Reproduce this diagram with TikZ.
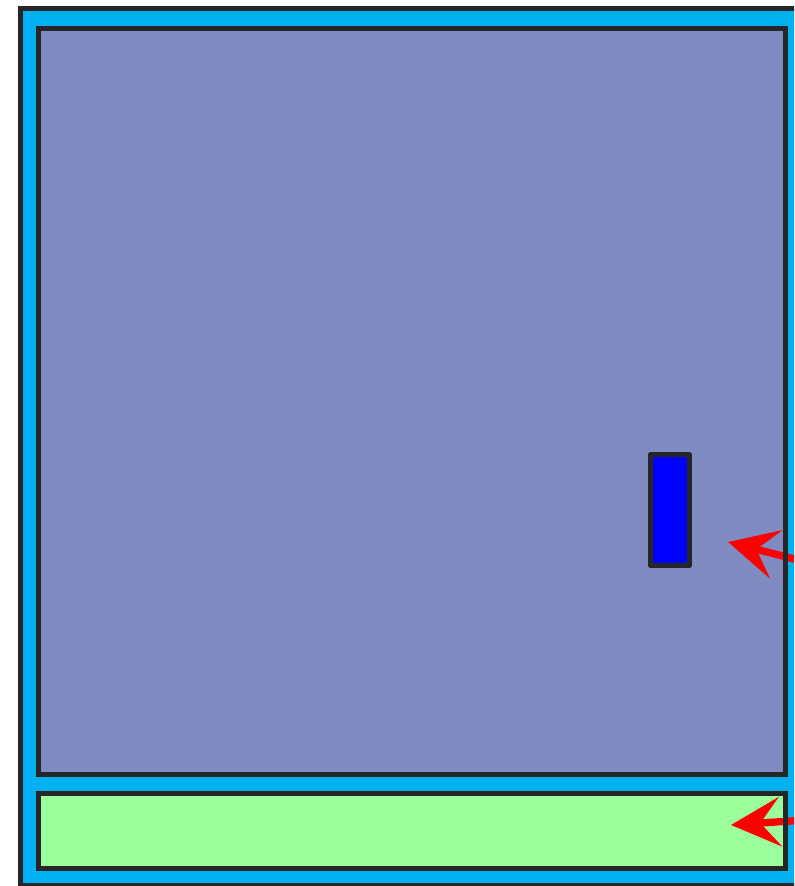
\documentclass[tikz,border=0pt]{standalone}
\usepackage{tikz}
\usetikzlibrary{arrows.meta}

\definecolor{framecyan}{RGB}{0,176,240}
\definecolor{roomblue}{RGB}{127,139,193}
\definecolor{stripgreen}{RGB}{155,255,155}
\definecolor{edgegray}{RGB}{38,38,40}

\begin{document}
\begin{tikzpicture}[x=0.75pt,y=-0.75pt,
    box/.style={draw=edgegray,line width=3.6pt},
    pointer/.style={-{Stealth[length=37pt,width=37pt,inset=15pt]},red,line width=5.5pt}]
  \useasboundingbox (0,0) rectangle (794,886);
  \clip (0,0) rectangle (794,886);
  % fills first
  \draw[box,fill=framecyan] (20.5,8.5) rectangle (830,885.5);
  \fill[roomblue] (38.5,28.5) rectangle (785.5,774.5);
  \fill[stripgreen] (38.5,793.5) rectangle (785.5,868.5);
  \coordinate (t1) at (728,542);
  \coordinate (s1) at (880,581);
  \coordinate (t2) at (731,825);
  \coordinate (s2) at (880,815);
  \draw[pointer] (s1) -- (t1);
  \draw[pointer] (s2) -- (t2);
  % outlines on top
  \draw[box] (38.5,28.5) rectangle (785.5,774.5);
  \draw[box] (38.5,793.5) rectangle (785.5,868.5);
  \draw[box,fill=blue,line join=round] (650.5,454.5) rectangle (689.5,565.5);
\end{tikzpicture}
\end{document}
